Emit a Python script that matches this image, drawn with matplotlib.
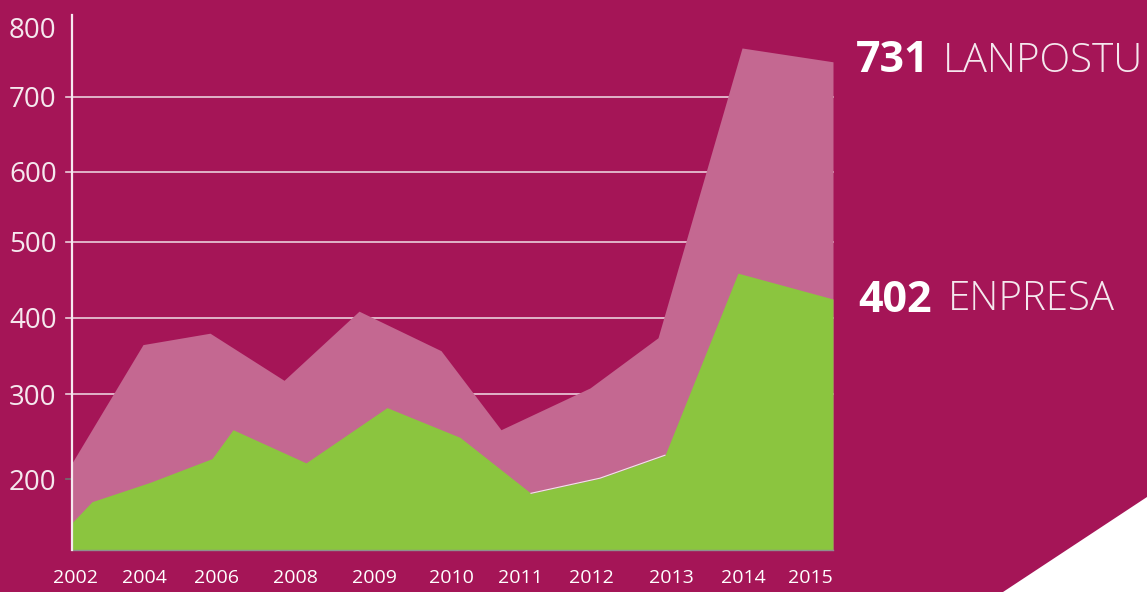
import numpy as np
import matplotlib.pyplot as plt
from matplotlib.patches import Polygon

# x is measured in label slots (0 = 2002 label, 10 = 2015 label)
year_labels = ["2002", "2004", "2006", "2008", "2009", "2010",
               "2011", "2012", "2013", "2014", "2015"]
year_ticks = [0, 0.95, 1.93, 3.0, 4.08, 5.12, 6.06, 7.03, 8.11, 9.1, 10.0]

lanpostu_x = [-0.041, 0.925, 1.837, 2.844, 3.864, 4.98, 5.796, 7.007, 7.932, 9.075, 10.313]
lanpostu = [219, 365, 380, 318, 409, 357, 258, 308, 374, 771, 751]

enpresa_x = [-0.041, 0.231, 1.02, 1.864, 2.15, 3.143, 4.245, 5.238, 6.204,
             7.143, 8.027, 9.02, 10.313]
enpresa = [148, 173, 196, 224, 258, 219, 284, 249, 183, 201, 228, 459, 425]

y_ticks = [200, 300, 400, 500, 600, 700, 800]
grid_vals = [300, 400, 500, 600, 700]

# the original axis is not evenly spaced: piecewise scale from tick positions
knot_vals = np.array([100, 200, 300, 400, 500, 600, 700, 800, 900])
knot_pos = 600 - np.array([563, 479, 394, 318, 242, 172, 97, 28, -41])


def forward(v):
    return np.interp(v, knot_vals, knot_pos)


def inverse(p):
    return np.interp(p, knot_pos, knot_vals)


BG = "#A51557"
PINK = "#C46891"
GREEN = "#8BC53F"
LIGHT = "#F5E8EE"

plt.rcParams["font.family"] = ["Open Sans", "DejaVu Sans"]

W, H = 1147, 592
fig = plt.figure(figsize=(W / 100, H / 100), dpi=100, facecolor=BG)
ax = fig.add_axes([72 / W, (H - 550) / H, (833 - 72) / W, (550 - 15) / H])
ax.set_facecolor("none")
ax.set_yscale("function", functions=(forward, inverse))

ymin, ymax = 115.5, 818.8
ax.set_ylim(ymin, ymax)
ax.set_xlim(lanpostu_x[0], lanpostu_x[-1])

stub = -6 / 761
for v in grid_vals:
    ax.axhline(v, xmin=stub, xmax=1, color="#EBCFDC", lw=1.2, zorder=0, clip_on=False)
ax.axhline(200, xmin=stub, xmax=0, color="#707070", lw=1.2, clip_on=False)

ax.fill_between(lanpostu_x, ymin, lanpostu, color=PINK, lw=0, zorder=1)
ax.fill_between(enpresa_x, ymin, enpresa, color=GREEN, lw=0, zorder=2)
ax.plot(enpresa_x[8:11], enpresa[8:11], color="#F2E6EC", lw=0.8, zorder=3)

for s in ["top", "right"]:
    ax.spines[s].set_visible(False)
ax.spines["left"].set_color("#F6E9EF")
ax.spines["left"].set_linewidth(1.6)
ax.spines["left"].set_zorder(4)
ax.spines["bottom"].set_color("#8f8f8f")
ax.spines["bottom"].set_linewidth(1.0)

ax.set_yticks(y_ticks)
ax.set_yticklabels([str(v) for v in y_ticks])
ax.set_xticks(year_ticks)
ax.set_xticklabels(year_labels)
ax.tick_params(axis="y", length=0, pad=11, labelsize=20, labelcolor=LIGHT)
ax.tick_params(axis="x", length=0, pad=14, labelsize=14, labelcolor="white")
for lab in ax.get_xticklabels():
    lab.set_fontweight("medium")

fig.text(856 / W, (H - 61) / H, "731", fontsize=31, fontweight="bold",
         color="white", va="center", ha="left")
fig.text(943 / W, (H - 61) / H, "LANPOSTU", fontsize=29, fontweight="light",
         color=LIGHT, va="center", ha="left")
fig.text(858 / W, (H - 300) / H, "402", fontsize=31, fontweight="bold",
         color="white", va="center", ha="left")
fig.text(948 / W, (H - 300) / H, "ENPRESA", fontsize=29, fontweight="light",
         color=LIGHT, va="center", ha="left")

fig.patches.append(Polygon([(1003 / W, 0), (1, 0), (1, (H - 497) / H)],
                           closed=True, transform=fig.transFigure,
                           facecolor="white", edgecolor="none"))

fig.savefig("out.png", dpi=100, facecolor=BG)
